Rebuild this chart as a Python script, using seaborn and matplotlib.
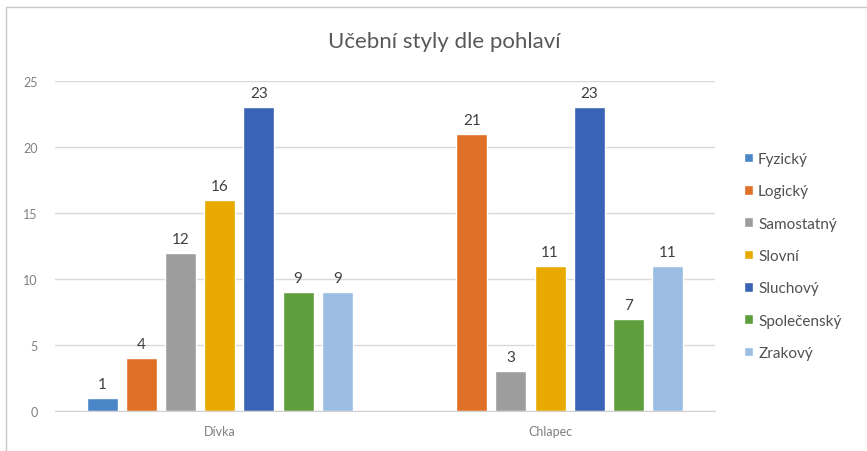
import numpy as np
import pandas as pd
import matplotlib.pyplot as plt
import seaborn as sns
from matplotlib.patches import Rectangle

# data
categories = ["Dívka", "Chlapec"]
styles = ["Fyzický", "Logický", "Samostatný", "Slovní", "Sluchový", "Společenský", "Zrakový"]
divka = [1, 4, 12, 16, 23, 9, 9]
chlapec = [np.nan, 21, 3, 11, 23, 7, 11]

colors = ["#4a86c8", "#e07026", "#9d9d9d", "#e8a900", "#3a62b5", "#5f9e3c", "#9cbde3"]

df = pd.DataFrame({
    "pohlavi": [categories[0]] * len(styles) + [categories[1]] * len(styles),
    "styl": styles * 2,
    "pocet": divka + chlapec,
})

sns.set_style("white")
plt.rcParams["font.family"] = ["Lato", "DejaVu Sans"]

fig = plt.figure(figsize=(8.67, 4.52), dpi=100)
ax = fig.add_axes([0.063, 0.0885, 0.762, 0.73])

sns.barplot(data=df, x="pohlavi", y="pocet", hue="styl", order=categories,
            hue_order=styles, palette=colors, width=0.83, gap=0.21,
            saturation=1, ax=ax, legend=True)

for cont in ax.containers:
    labels = ["" if np.isnan(v) else f"{v:.0f}" for v in cont.datavalues]
    ax.bar_label(cont, labels=labels, padding=5, fontsize=11, color="#404040")

ax.set_ylim(0, 25)
ax.set_yticks([0, 5, 10, 15, 20, 25])
ax.yaxis.grid(True, color="#d9d9d9", linewidth=1)
ax.set_axisbelow(True)
ax.set_xlabel("")
ax.set_ylabel("")
for s in ["top", "right", "left"]:
    ax.spines[s].set_visible(False)
ax.spines["bottom"].set_color("#d0d0d0")
ax.tick_params(axis="both", length=0, labelsize=9, labelcolor="#808080")
ax.tick_params(axis="y", pad=12)
ax.tick_params(axis="x", pad=10)

fig.suptitle("Učební styly dle pohlaví", x=0.512, y=0.93, fontsize=16, color="#595959")

leg = ax.legend(loc="center left", bbox_to_anchor=(1.022, 0.47), frameon=False,
                fontsize=11, handlelength=0.6, handleheight=0.6, handletextpad=0.35,
                labelspacing=1.2, labelcolor="#505050")

fig.patches.append(Rectangle((6 / 867, -0.1), 1.2, (452 - 8) / 452 + 0.1,
                             transform=fig.transFigure, fill=False,
                             edgecolor="#c8c8c8", linewidth=1))

fig.savefig("out.png", dpi=100, facecolor="white")
